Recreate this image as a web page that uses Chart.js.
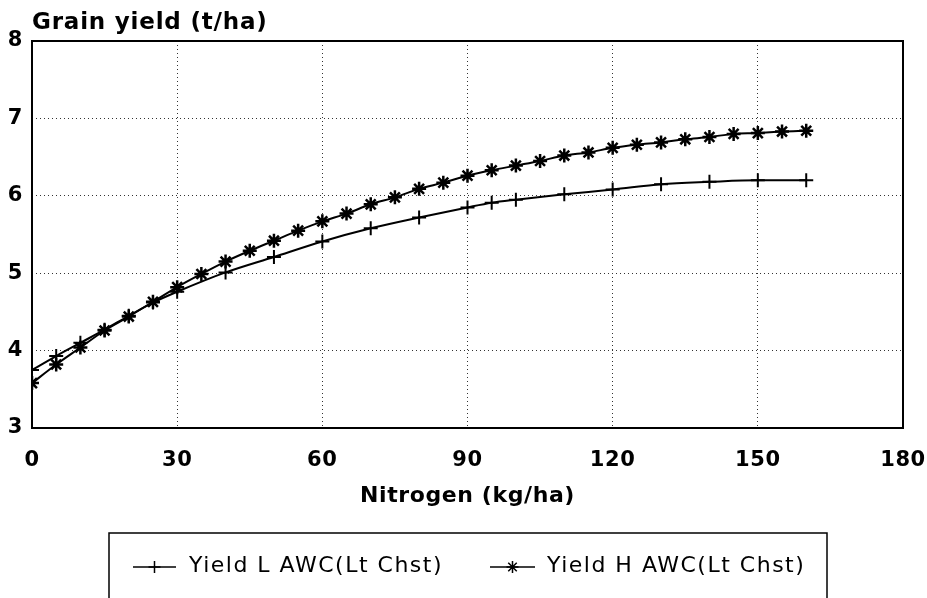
<!DOCTYPE html>
<html>
<head>
<meta charset="utf-8">
<script src="https://cdn.jsdelivr.net/npm/chart.js@4/dist/chart.umd.min.js"></script>
<style>
  html, body { margin: 0; padding: 0; background: #fff; }
  #wrap { width: 927px; height: 598px; }
</style>
</head>
<body>
<div id="wrap"><canvas id="yieldChart" width="927" height="598"></canvas></div>
<script>
// values
const nitrogenL = [0, 5, 10, 15, 20, 25, 30, 40, 50, 60, 70, 80, 90, 95, 100, 110, 120, 130, 140, 150, 160];
const yieldL = [3.75, 3.93, 4.10, 4.27, 4.45, 4.62, 4.76, 5.01, 5.21, 5.41, 5.58, 5.72, 5.85, 5.91, 5.95, 6.02, 6.08, 6.15, 6.18, 6.20, 6.20];

const nitrogenH = [0, 5, 10, 15, 20, 25, 30, 35, 40, 45, 50, 55, 60, 65, 70, 75, 80, 85, 90, 95, 100, 105, 110, 115, 120, 125, 130, 135, 140, 145, 150, 155, 160];
const yieldH = [3.58, 3.82, 4.04, 4.26, 4.44, 4.63, 4.82, 4.99, 5.15, 5.29, 5.42, 5.55, 5.67, 5.77, 5.89, 5.98, 6.09, 6.17, 6.26, 6.33, 6.39, 6.45, 6.52, 6.56, 6.62, 6.66, 6.69, 6.73, 6.76, 6.80, 6.81, 6.83, 6.84];

const seriesLabels = ['Yield L AWC(Lt Chst)', 'Yield H AWC(Lt Chst)'];
const xTicks = [0, 30, 60, 90, 120, 150, 180];
const yTicks = [3, 4, 5, 6, 7, 8];

const FONT = '"DejaVu Sans", sans-serif';

function toPoints(xs, ys) {
    return xs.map((x, i) => ({ x: x, y: ys[i] }));
}

// frame, y title and boxed legend
const framePlugin = {
    id: 'frame',
    beforeLayout(chart) {
        chart.ctx.letterSpacing = '0.6px';
    },
    beforeDraw(chart) {
        chart.ctx.letterSpacing = '0.6px';
    },
    afterDraw(chart) {
        const ctx = chart.ctx;
        const a = chart.chartArea;
        ctx.save();
        ctx.strokeStyle = '#000';
        ctx.lineWidth = 2;
        ctx.strokeRect(a.left, a.top, a.right - a.left, a.bottom - a.top);

        ctx.fillStyle = '#000';
        ctx.letterSpacing = '0.8px';
        ctx.font = 'bold 23px ' + FONT;
        ctx.textBaseline = 'alphabetic';
        ctx.textAlign = 'left';
        ctx.fillText('Grain yield (t/ha)', 32, 29);

        // legend box
        ctx.lineWidth = 1.5;
        ctx.strokeRect(109, 533, 718, 100);
        ctx.letterSpacing = '1.5px';
        ctx.font = '22px ' + FONT;
        ctx.textBaseline = 'middle';
        const items = [
            { x0: 133, x1: 176, text: 189 },
            { x0: 490, x1: 535, text: 547 }
        ];
        chart.data.datasets.forEach((ds, i) => {
            const it = items[i];
            const y = 567;
            ctx.lineWidth = 1.5;
            ctx.beginPath();
            ctx.moveTo(it.x0, y);
            ctx.lineTo(it.x1, y);
            ctx.stroke();
            Chart.helpers.drawPoint(ctx, {
                pointStyle: ds.pointStyle,
                radius: 6,
                borderWidth: 1.5
            }, (it.x0 + it.x1) / 2, y);
            ctx.fillText(ds.label, it.text, y - 1);
        });
        ctx.restore();
    }
};

new Chart(document.getElementById('yieldChart').getContext('2d'), {
    type: 'line',
    data: {
        datasets: [
            {
                label: seriesLabels[0],
                data: toPoints(nitrogenL, yieldL),
                borderColor: '#000',
                borderWidth: 2,
                pointStyle: 'cross',
                pointRadius: 7,
                pointBorderWidth: 2,
                pointBorderColor: '#000',
                pointBackgroundColor: '#000',
                cubicInterpolationMode: 'monotone',
                fill: false
            },
            {
                label: seriesLabels[1],
                data: toPoints(nitrogenH, yieldH),
                borderColor: '#000',
                borderWidth: 2,
                pointStyle: 'star',
                pointRadius: 7,
                pointBorderWidth: 2.5,
                pointBorderColor: '#000',
                pointBackgroundColor: '#000',
                cubicInterpolationMode: 'monotone',
                fill: false
            }
        ]
    },
    options: {
        responsive: false,
        animation: false,
        devicePixelRatio: 1,
        layout: { padding: { top: 41, right: 24, left: 0, bottom: 0 } },
        plugins: {
            legend: { display: false },
            tooltip: { enabled: false }
        },
        scales: {
            x: {
                type: 'linear',
                min: 0,
                max: 180,
                afterBuildTicks(scale) {
                    scale.ticks = xTicks.map(v => ({ value: v }));
                },
                afterFit(scale) {
                    scale.height = 170;
                    scale.paddingLeft = 0;
                    scale.paddingRight = 0;
                },
                grid: { color: '#333', lineWidth: 1, drawTicks: false },
                border: { display: false, dash: [1, 3] },
                ticks: {
                    color: '#000',
                    padding: 20,
                    maxRotation: 0,
                    font: { family: FONT, size: 21, weight: 'bold' }
                },
                title: {
                    display: true,
                    text: 'Nitrogen (kg/ha)',
                    color: '#000',
                    font: { family: FONT, size: 22, weight: 'bold' },
                    padding: { top: 0, bottom: 89 }
                }
            },
            y: {
                type: 'linear',
                min: 3,
                max: 8,
                afterBuildTicks(scale) {
                    scale.ticks = yTicks.map(v => ({ value: v }));
                },
                afterFit(scale) {
                    scale.width = 32;
                    scale.paddingTop = 0;
                    scale.paddingBottom = 0;
                },
                grid: { color: '#333', lineWidth: 1, drawTicks: false },
                border: { display: false, dash: [1, 3] },
                ticks: {
                    color: '#000',
                    padding: 9,
                    font: { family: FONT, size: 21, weight: 'bold' }
                }
            }
        }
    },
    plugins: [framePlugin]
});
</script>
</body>
</html>
